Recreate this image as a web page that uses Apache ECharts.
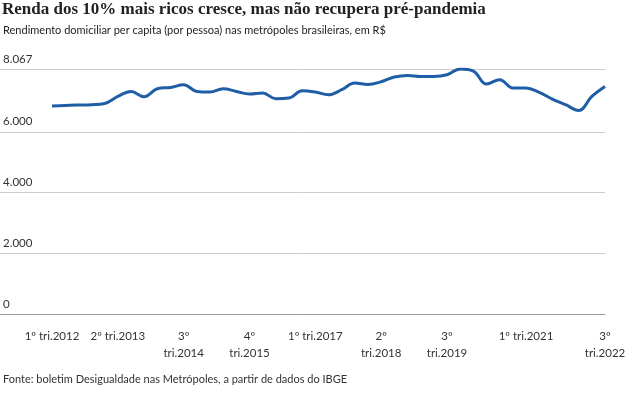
<!DOCTYPE html>
<html>
<head>
<meta charset="utf-8">
<script src="https://cdn.jsdelivr.net/npm/echarts@6/dist/echarts.min.js"></script>
<style>
  html, body { margin: 0; padding: 0; background: #fff; }
  #chart { width: 629px; height: 397px; }
</style>
</head>
<body>
<div id="chart"></div>
<script>
// trimestres, 1º tri.2012 a 3º tri.2022
const quarters = [];
for (let y = 2012; y <= 2022; y++) {
  for (let q = 1; q <= 4; q++) {
    if (y === 2022 && q > 3) break;
    quarters.push(q + 'º tri.' + y);
  }
}

// renda dos 10% mais ricos, R$
const renda = [
  6847, 6867, 6880, 6890, 6933, 7164, 7328, 7154, 7417, 7460,
  7549, 7328, 7309, 7417, 7328, 7243, 7276, 7088, 7111, 7351,
  7309, 7220, 7384, 7605, 7559, 7648, 7803, 7856, 7823, 7823,
  7879, 8067, 8000, 7572, 7714, 7441, 7441, 7296, 7078, 6890,
  6702, 7164, 7493
];

const tickIdx = [0, 5, 10, 15, 20, 25, 30, 36, 42];
const tickLabels = ['1º tri.2012', '2º tri.2013', '3º\ntri.2014', '4º\ntri.2015', '1º tri.2017',
  '2º\ntri.2018', '3º\ntri.2019', '1º tri.2021', '3º\ntri.2022'];
const yTicks = [0, 2000, 4000, 6000, 8067];

const sans = 'Lato';
const fmt = v => String(v).replace(/\B(?=(\d{3})+(?!\d))/g, '.');

let myChart = echarts.init(document.getElementById('chart'));
let option = {
  animation: false,
  title: [
    {
      text: 'Renda dos 10% mais ricos cresce, mas não recupera pré-pandemia',
      left: 2, top: 1, padding: 0,
      textStyle: { fontFamily: 'Liberation Serif', fontWeight: 'bold', fontSize: 17, color: '#222' }
    },
    {
      text: 'Rendimento domiciliar per capita (por pessoa) nas metrópoles brasileiras, em R$',
      left: 3, top: 25, padding: 0,
      textStyle: { fontFamily: sans, fontWeight: 'normal', fontSize: 11, color: '#222' }
    },
    {
      text: 'Fonte: boletim Desigualdade nas Metrópoles, a partir de dados do IBGE',
      left: 3, top: 374, padding: 0,
      textStyle: { fontFamily: sans, fontWeight: 'normal', fontSize: 11, color: '#333' }
    }
  ],
  grid: [
    { left: 0, right: 24, top: 69, bottom: 83, outerBoundsMode: 'none' },
    { left: 52, right: 24, top: 69, bottom: 83, outerBoundsMode: 'none' }
  ],
  xAxis: [
    {
      gridIndex: 0, type: 'value', min: 0, max: 1,
      axisLine: { show: true, onZero: false, lineStyle: { color: '#999', width: 1 } },
      axisTick: { show: false }, axisLabel: { show: false }, splitLine: { show: false }
    },
    {
      gridIndex: 1, type: 'category', data: quarters, boundaryGap: false,
      axisLine: { show: false }, axisTick: { show: false }, splitLine: { show: false },
      axisLabel: {
        interval: (i) => tickIdx.includes(i),
        formatter: (v, i) => tickLabels[tickIdx.indexOf(i)],
        hideOverlap: false,
        margin: 14,
        fontFamily: sans, fontSize: 11.5, color: '#333', lineHeight: 17,
        verticalAlign: 'top'
      }
    }
  ],
  yAxis: [
    {
      gridIndex: 0, type: 'value', min: 0, max: 8067,
      axisLine: { show: false },
      axisTick: { show: false, customValues: yTicks },
      splitLine: { show: true, lineStyle: { color: '#ccc', width: 1 } },
      axisLabel: {
        customValues: yTicks,
        inside: true, margin: 3,
        verticalAlign: 'bottom', padding: [0, 0, 4, 0],
        formatter: fmt,
        fontFamily: sans, fontSize: 11.5, color: '#333'
      }
    },
    {
      gridIndex: 1, type: 'value', min: 0, max: 8067, show: false
    }
  ],
  series: [
    {
      name: 'Renda',
      type: 'line',
      xAxisIndex: 1, yAxisIndex: 1,
      data: renda,
      smooth: 0.4,
      showSymbol: false,
      lineStyle: { color: '#1f5ea6', width: 3 }
    }
  ]
};
myChart.setOption(option);
</script>
</body>
</html>
